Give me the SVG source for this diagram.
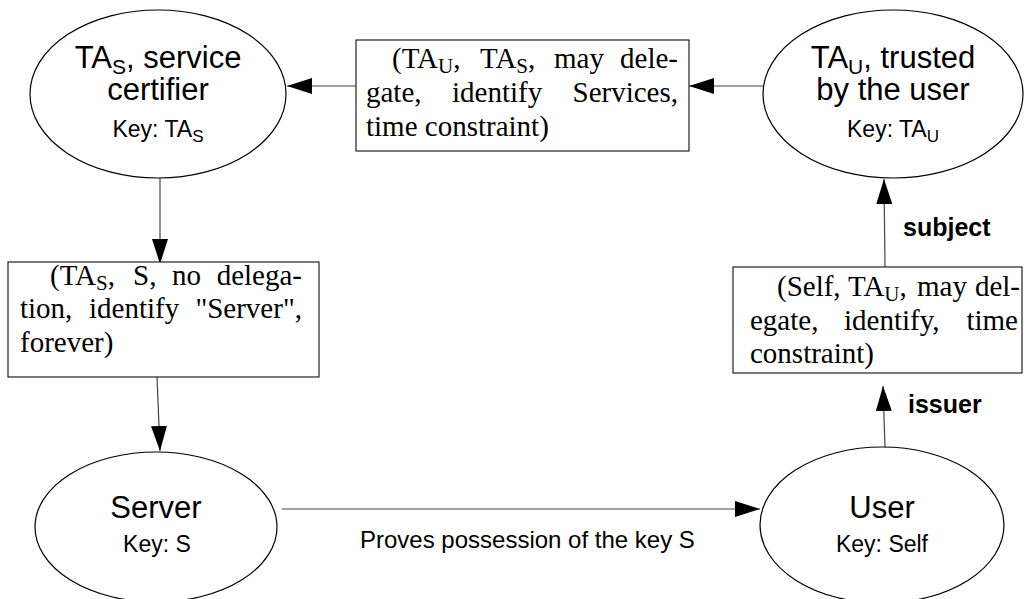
<svg xmlns="http://www.w3.org/2000/svg" width="1027" height="599" viewBox="0 0 1027 599">
<style>
.node{fill:#fff;stroke:#000;stroke-width:1.2}
.box{fill:#fff;stroke:#222;stroke-width:1.2}
.sans{font-family:"Liberation Sans",Arial,sans-serif;fill:#000}
.big{font-size:31px}
.key{font-size:23px}
.serif{font-family:"Liberation Serif","Times New Roman",serif;font-size:29px;fill:#000}
.sub{font-size:21px}
.lbl{font-family:"Liberation Sans",Arial,sans-serif;font-size:25px;font-weight:bold;fill:#000}
.conn{stroke:#444;stroke-width:1.2;fill:none;marker-end:url(#ah)}
</style>
<defs>
<marker id="ah" markerUnits="userSpaceOnUse" markerWidth="26" markerHeight="18" refX="25" refY="8" orient="auto">
<path d="M0,0 L25,8 L0,16 z" fill="#000"/>
</marker>
</defs>
<rect width="1027" height="599" fill="#fff"/>
<g id="connectors">
<line class="conn" x1="763" y1="86" x2="689" y2="86"/>
<line class="conn" x1="356" y1="86" x2="287" y2="86"/>
<line class="conn" x1="160" y1="178" x2="160" y2="264"/>
<line class="conn" x1="157" y1="377" x2="160" y2="451"/>
<line class="conn" x1="282" y1="509" x2="760" y2="509"/>
<line class="conn" x1="885" y1="447" x2="883" y2="386"/>
<line class="conn" x1="885" y1="267" x2="884" y2="179"/>
<text class="sans" x="360" y="548" font-size="24">Proves possession of the key S</text>
<text class="lbl" x="903" y="236">subject</text>
<text class="lbl" x="908" y="413">issuer</text>
</g>
<g id="tas">
<ellipse class="node" cx="158" cy="94" rx="128" ry="84"/>
<text class="sans big" x="158" y="68" text-anchor="middle">TA<tspan font-size="21" dy="6">S</tspan><tspan dy="-6">, service</tspan></text>
<text class="sans big" x="158" y="100" text-anchor="middle">certifier</text>
<text class="sans key" x="158" y="137" text-anchor="middle">Key: TA<tspan font-size="17" dy="5">S</tspan></text>
</g>
<g id="tau">
<ellipse class="node" cx="893" cy="94" rx="130" ry="84"/>
<text class="sans big" x="893" y="68" text-anchor="middle">TA<tspan font-size="21" dy="6">U</tspan><tspan dy="-6">, trusted</tspan></text>
<text class="sans big" x="893" y="100" text-anchor="middle">by the user</text>
<text class="sans key" x="893" y="137" text-anchor="middle">Key: TA<tspan font-size="17" dy="5">U</tspan></text>
</g>
<g id="server">
<ellipse class="node" cx="156" cy="527" rx="121" ry="75"/>
<text class="sans big" x="156" y="518" text-anchor="middle">Server</text>
<text class="sans" x="157" y="552" font-size="23" text-anchor="middle">Key: S</text>
</g>
<g id="user">
<ellipse class="node" cx="882" cy="525" rx="122" ry="78"/>
<text class="sans big" x="882" y="518" text-anchor="middle">User</text>
<text class="sans" x="882" y="552" font-size="23" text-anchor="middle">Key: Self</text>
</g>
<g id="cert1">
<rect class="box" x="356" y="40" width="333" height="111"/>
<text class="serif" x="392" y="68">(TA<tspan class="sub" dy="5">U</tspan><tspan dy="-5">,</tspan></text>
<text class="serif" x="480" y="68">TA<tspan class="sub" dy="5">S</tspan><tspan dy="-5">,</tspan></text>
<text class="serif" x="554" y="68">may</text>
<text class="serif" x="678" y="68" text-anchor="end">dele-</text>
<text class="serif" x="366" y="102">gate,</text>
<text class="serif" x="452" y="102">identify</text>
<text class="serif" x="678" y="102" text-anchor="end">Services,</text>
<text class="serif" x="366" y="136">time constraint)</text>
</g>
<g id="cert2">
<rect class="box" x="8" y="262" width="311" height="115"/>
<text class="serif" x="50" y="285">(TA<tspan class="sub" dy="5">S</tspan><tspan dy="-5">,</tspan></text>
<text class="serif" x="133" y="285">S,</text>
<text class="serif" x="172" y="285">no</text>
<text class="serif" x="302" y="285" text-anchor="end">delega-</text>
<text class="serif" x="20" y="318">tion,</text>
<text class="serif" x="89" y="318">identify</text>
<text class="serif" x="302" y="318" text-anchor="end">"Server",</text>
<text class="serif" x="20" y="352">forever)</text>
</g>
<g id="cert3">
<rect class="box" x="733" y="267" width="289" height="106"/>
<text class="serif" x="777" y="296">(Self,</text>
<text class="serif" x="848" y="296">TA<tspan class="sub" dy="5">U</tspan><tspan dy="-5">,</tspan></text>
<text class="serif" x="917" y="296">may</text>
<text class="serif" x="1020" y="296" text-anchor="end">del-</text>
<text class="serif" x="750" y="330">egate,</text>
<text class="serif" x="844" y="330">identify,</text>
<text class="serif" x="1018" y="330" text-anchor="end">time</text>
<text class="serif" x="750" y="363">constraint)</text>
</g>
</svg>
